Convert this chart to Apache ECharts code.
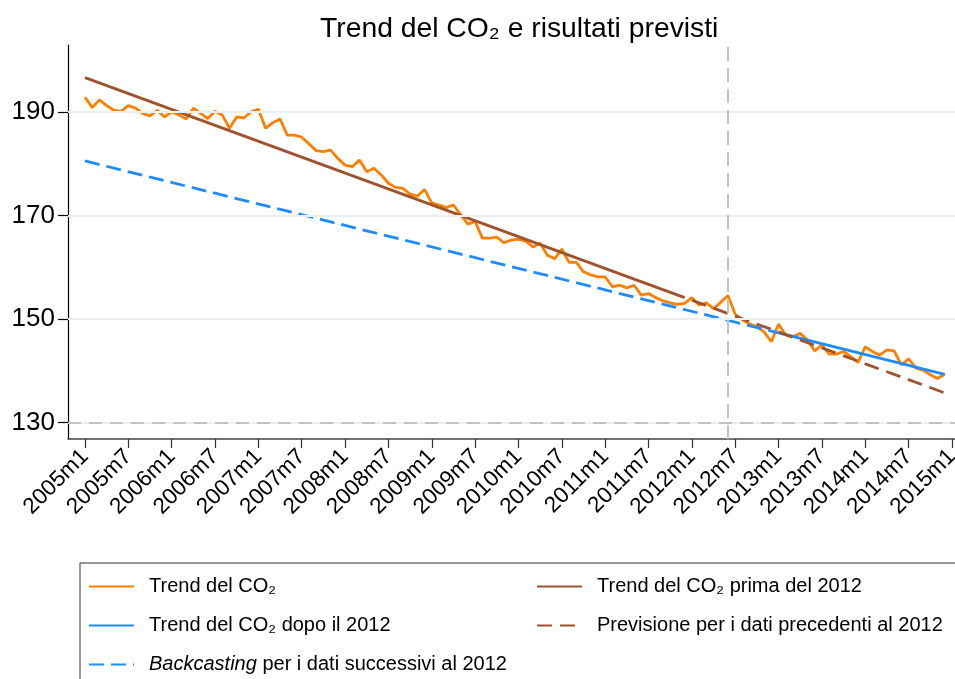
<!DOCTYPE html>
<html>
<head>
<meta charset="utf-8">
<script src="https://cdn.jsdelivr.net/npm/echarts@6/dist/echarts.min.js"></script>
<style>html,body{margin:0;padding:0;background:#fff}#c{width:955px;height:679px}</style>
</head>
<body>
<div id="c"></div>
<script>
// Monthly CO2 trend, month index 0 = 2005m1 ... 119 = 2014m12
const co2 = [
192.8, 190.8, 192.3, 191.2, 190.3, 190.1, 191.2, 190.7, 189.7, 189.2,
190.3, 189.0, 190.0, 189.4, 188.6, 190.7, 189.7, 188.7, 190.1, 189.4,
186.8, 189.0, 188.8, 190.0, 190.5, 186.8, 187.9, 188.6, 185.5, 185.5,
185.1, 183.8, 182.5, 182.3, 182.6, 181.0, 179.7, 179.4, 180.7, 178.4,
179.1, 177.8, 176.2, 175.4, 175.2, 174.1, 173.7, 175.0, 172.4, 172.0,
171.5, 172.0, 170.1, 168.3, 168.8, 165.6, 165.6, 165.8, 164.7, 165.2,
165.4, 165.0, 163.9, 164.6, 162.3, 161.6, 163.5, 160.9, 160.9, 159.1,
158.5, 158.1, 158.1, 156.2, 156.5, 156.0, 156.5, 154.6, 154.9, 154.1,
153.5, 153.1, 152.8, 153.0, 154.1, 152.7, 153.1, 152.0, 153.2, 154.5,
150.9, 149.8, 149.0, 148.5, 147.5, 145.6, 149.0, 146.9, 146.6, 147.2,
145.9, 143.8, 145.0, 143.2, 143.2, 143.7, 142.7, 141.6, 144.6, 143.7,
143.0, 144.0, 143.8, 141.1, 142.3, 140.5, 140.1, 139.2, 138.5, 139.3
];
// Linear trends: [month, value] endpoints
const trendPre = [[0, 196.6], [83, 154.1]];
const forecastPre = [[84, 153.6], [119, 135.7]];
const backcastPost = [[0, 180.5], [96, 147.3]];
const trendPost = [[96, 147.3], [119, 139.3]];

const tickMonths = [0,6,12,18,24,30,36,42,48,54,60,66,72,78,84,90,96,102,108,114,120];
const tickLabels = ['2005m1','2005m7','2006m1','2006m7','2007m1','2007m7','2008m1','2008m7',
  '2009m1','2009m7','2010m1','2010m7','2011m1','2011m7','2012m1','2012m7','2013m1','2013m7',
  '2014m1','2014m7','2015m1'];
const yTicks = [130, 150, 170, 190];
const gridValues = [150, 170, 190];
const refY = 130;
const refX = 89;

const names = ['Trend del CO\u2082', 'Trend del CO\u2082 prima del 2012', 'Trend del CO\u2082 dopo il 2012',
  'Previsione per i dati precedenti al 2012', 'Backcasting per i dati successivi al 2012'];

const FONT = 'Liberation Sans';
const ORANGE = '#ff8000', BROWN = '#a0522d', BLUE = '#1e8cff';

const chart = echarts.init(document.getElementById('c'), null, {renderer: 'canvas'});
chart.setOption({
  backgroundColor: '#fff',
  animation: false,
  textStyle: {fontFamily: FONT},
  title: {
    text: 'Trend del CO\u2082 e risultati previsti',
    left: 315, top: 10,
    textStyle: {fontFamily: FONT, fontSize: 28.3, fontWeight: 'normal', color: '#000'}
  },
  grid: {left: 68, right: 0, top: 45, bottom: 240, containLabel: false, outerBoundsMode: 'none'},
  xAxis: {
    type: 'value', min: -2.35, max: 120.42,
    axisLine: {show: true, onZero: false, lineStyle: {color: '#444', width: 1.5}},
    axisTick: {show: true, length: 9, customValues: tickMonths, lineStyle: {color: '#333', width: 1.2}},
    axisLabel: {customValues: tickMonths, rotate: 45, fontSize: 22.5, color: '#000', margin: 14,
      fontFamily: FONT, formatter: v => tickLabels[tickMonths.indexOf(v)]},
    splitLine: {show: false}
  },
  yAxis: {
    type: 'value', min: 126.8, max: 202.9,
    axisLine: {show: true, onZero: false, lineStyle: {color: '#000', width: 1.2}},
    axisTick: {show: true, length: 10, customValues: yTicks, lineStyle: {color: '#000', width: 1.2}},
    axisLabel: {customValues: yTicks, fontSize: 26, color: '#000', margin: 13, fontFamily: FONT},
    splitLine: {show: false}
  },
  legend: {
    left: 80, top: 563, orient: 'horizontal', width: 900,
    padding: [9, 10, 10, 8],
    borderColor: '#333', borderWidth: 1, backgroundColor: '#fff',
    itemWidth: 45, itemHeight: 14, itemGap: 10,
    itemStyle: {opacity: 0},
    lineStyle: {width: 2},
    data: names,
    formatter: function (name) {
      if (name.indexOf('Backcasting') === 0) return '{i|Backcasting} per i dati successivi al 2012';
      return name;
    },
    textStyle: {fontFamily: FONT, fontSize: 20, color: '#000', width: 377, lineHeight: 29,
      padding: [0, 0, 0, 10], rich: {i: {fontStyle: 'italic', fontSize: 20, fontFamily: FONT, color: '#000'}}}
  },
  series: [
    {
      type: 'line', name: '_grid', data: [], z: 1, silent: true,
      markLine: {
        silent: true, symbol: 'none', animation: false, label: {show: false},
        data: gridValues.map(v => ({yAxis: v, lineStyle: {color: '#e8f0f2', width: 2, type: 'solid'}}))
          .concat([{yAxis: refY, lineStyle: {color: '#e8f0f2', width: 2, type: 'solid'}}])
      }
    },
    {
      type: 'line', name: '_ref', data: [], z: 2, silent: true,
      markLine: {
        silent: true, symbol: 'none', animation: false, label: {show: false},
        data: [
          {yAxis: refY, lineStyle: {color: '#c2c2c2', width: 2, type: [13, 8]}},
          {xAxis: refX, lineStyle: {color: '#c2c2c2', width: 2, type: [14, 7]}}
        ]
      }
    },
    {
      type: 'line', name: names[0], z: 3, symbol: 'none',
      data: co2.map((v, i) => [i, v]),
      lineStyle: {color: ORANGE, width: 2.8}, itemStyle: {color: ORANGE}
    },
    {
      type: 'line', name: names[1], z: 4, symbol: 'none', data: trendPre,
      lineStyle: {color: BROWN, width: 2.8}, itemStyle: {color: BROWN}
    },
    {
      type: 'line', name: names[2], z: 4, symbol: 'none', data: trendPost,
      lineStyle: {color: BLUE, width: 2.8}, itemStyle: {color: BLUE}
    },
    {
      type: 'line', name: names[3], z: 4, symbol: 'none', data: forecastPre,
      lineStyle: {color: BROWN, width: 2.8, type: [15, 8]}, itemStyle: {color: BROWN}
    },
    {
      type: 'line', name: names[4], z: 4, symbol: 'none', data: backcastPost,
      lineStyle: {color: BLUE, width: 2.8, type: [15, 7]}, itemStyle: {color: BLUE}
    }
  ]
});
</script>
</body>
</html>
